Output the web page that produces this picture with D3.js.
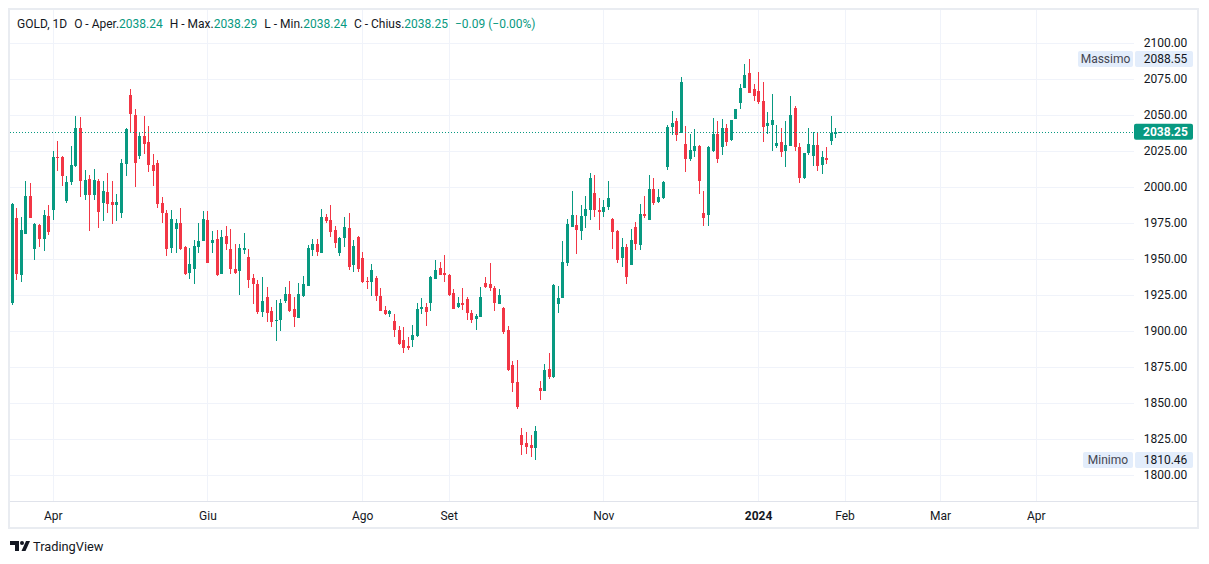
<!DOCTYPE html>
<html>
<head>
<meta charset="utf-8">
<script src="https://cdn.jsdelivr.net/npm/d3@7"></script>
<style>
body { margin: 0; background: #fff; }
svg { display: block; font-family: Roboto, "Trebuchet MS", sans-serif; }
</style>
</head>
<body>
<svg id="chart" width="1209" height="564"></svg>
<script>
// daily bars (index 0 = first visible bar)
const opens = [
1919.1,1978.5,1938.8,1967.5,1993.8,1957.1,1973.8,1963.9,1979.9,1984.1,
2020.8,2020.8,1990.3,2003.1,2014.2,2040.5,1994.0,2005.6,1994.0,2004.2,
1989.1,1996.6,1989.6,1987.1,1981.5,2015.6,2063.7,2049.5,2021.2,2035.1,
2030.9,2015.4,2016.8,1988.9,1982.0,1957.8,1970.8,1974.8,1958.3,1940.4,
1943.0,1958.5,1962.7,1977.1,1961.3,1963.9,1939.7,1965.9,1956.9,1943.0,
1941.8,1956.2,1951.5,1936.7,1932.5,1913.2,1923.3,1913.7,1907.2,1907.4,
1920.7,1925.6,1915.6,1909.3,1924.2,1931.3,1956.2,1960.4,1954.3,1979.0,
1977.1,1970.1,1954.3,1964.8,1971.5,1945.8,1965.5,1950.8,1934.6,1934.1,
1936.5,1924.4,1914.4,1911.6,1906.8,1900.5,1893.5,1889.6,1893.5,1896.3,
1915.1,1916.7,1919.5,1936.0,1943.7,1940.2,1938.8,1926.3,1916.5,1919.3,
1922.1,1912.8,1908.1,1909.8,1933.2,1932.5,1929.9,1918.8,1916.0,1900.5,
1876.1,1864.3,1828.1,1822.5,1821.1,1819.2,1860.6,1858.7,1873.8,1868.0,
1918.6,1923.0,1947.4,1972.4,1973.6,1969.6,1979.9,1983.6,1995.9,1984.1,
1982.2,1985.7,1977.8,1969.4,1950.8,1958.3,1945.8,1972.0,1959.7,1981.3,
1977.1,1998.7,1989.8,1992.2,2013.5,2041.4,2045.3,2037.5,2030.0,2019.1,
2025.1,2028.1,1982.0,1980.1,2024.7,2036.3,2027.7,2040.5,2032.3,2047.2,
2057.9,2068.5,2078.8,2067.8,2066.4,2059.5,2042.1,2042.8,2028.1,2030.9,
2024.7,2028.6,2054.9,2027.9,2006.1,2023.5,2021.2,2029.3,2015.4,2020.3,
2032.1,2036.3,2038.24
];
const highs = [
1988.5,1985.4,1979.4,2003.8,2002.6,1974.8,1974.5,1984.1,1987.5,2025.1,
2032.1,2021.7,2007.7,2028.6,2049.0,2048.1,2011.9,2008.4,2012.4,2005.6,
2004.2,2009.6,2003.8,1995.2,2019.6,2040.9,2067.6,2053.7,2037.9,2049.0,
2042.1,2023.0,2018.9,1993.1,1984.1,1984.1,1977.8,1985.4,1958.8,1957.4,
1963.2,1974.8,1983.4,1982.9,1969.6,1970.1,1970.1,1972.9,1970.6,1960.4,
1960.4,1968.2,1956.9,1939.5,1935.3,1937.2,1930.2,1916.7,1921.4,1922.3,
1930.2,1934.6,1923.7,1933.0,1938.1,1959.7,1963.9,1963.9,1984.7,1981.3,
1987.5,1972.9,1965.5,1979.0,1981.8,1963.2,1965.9,1955.0,1937.2,1946.5,
1938.1,1929.5,1917.2,1914.4,1911.6,1903.3,1902.8,1895.8,1904.0,1919.5,
1922.6,1919.1,1937.9,1949.2,1947.6,1952.7,1939.2,1929.0,1923.5,1929.7,
1923.7,1914.9,1912.1,1930.4,1937.4,1947.1,1931.1,1929.0,1916.7,1903.3,
1878.9,1879.6,1832.4,1830.1,1828.1,1834.3,1865.0,1876.8,1884.5,1932.3,
1931.1,1962.7,1977.8,1997.3,1980.6,1987.5,1993.8,2009.6,2008.4,1992.4,
1991.0,2004.2,1978.7,1970.1,1964.3,1960.4,1970.8,1975.9,1988.2,1993.8,
2007.9,2006.1,1998.5,2003.8,2043.2,2052.3,2047.4,2076.2,2042.1,2036.3,
2040.3,2029.3,1996.8,2028.2,2047.9,2045.5,2047.2,2043.7,2046.5,2054.0,
2071.1,2085.0,2088.55,2071.1,2079.7,2073.0,2051.8,2064.1,2042.8,2040.5,
2045.5,2062.7,2055.8,2030.5,2023.5,2040.5,2038.2,2038.2,2024.7,2027.9,
2048.8,2040.5,2038.29
];
const lows = [
1917.9,1935.3,1934.1,1967.3,1978.5,1949.2,1958.5,1955.5,1966.6,1977.1,
2010.7,2000.8,1989.1,2001.5,2013.8,1992.6,1991.0,1969.6,1990.5,1971.7,
1976.6,1981.8,1974.3,1976.6,1978.7,2007.2,2037.5,1999.6,2019.6,2022.4,
2010.5,2000.8,1985.4,1975.2,1952.2,1954.3,1954.1,1956.2,1938.8,1935.8,
1932.3,1953.9,1962.3,1947.0,1954.3,1938.4,1939.3,1956.2,1939.5,1939.5,
1924.9,1953.4,1929.9,1918.6,1912.1,1909.8,1906.3,1902.8,1893.0,1900.0,
1919.5,1913.2,1902.8,1909.0,1923.9,1931.0,1952.2,1952.2,1954.0,1974.8,
1965.5,1957.4,1952.0,1958.1,1942.3,1941.1,1941.1,1933.0,1928.8,1924.2,
1920.9,1913.6,1911.3,1909.8,1895.8,1890.4,1884.7,1886.6,1888.9,1896.0,
1912.1,1903.3,1913.9,1935.8,1938.8,1934.1,1924.6,1915.0,1916.0,1914.4,
1907.4,1905.6,1900.5,1909.5,1929.5,1927.9,1913.9,1918.5,1898.2,1872.4,
1857.5,1845.7,1814.1,1815.0,1812.3,1810.46,1852.4,1858.2,1866.9,1867.7,
1912.3,1922.7,1945.1,1972.1,1953.4,1963.2,1971.7,1977.1,1979.0,1970.1,
1979.4,1983.6,1956.9,1947.4,1944.6,1932.5,1945.5,1956.0,1956.2,1978.3,
1976.8,1987.1,1989.1,1991.7,2011.9,2035.8,2031.6,2037.2,2010.0,2017.7,
2020.8,1995.0,1973.1,1973.1,2024.4,2016.6,2021.9,2028.1,2032.0,2046.9,
2054.2,2068.2,2065.0,2059.5,2057.2,2031.2,2036.3,2024.7,2027.0,2020.8,
2013.5,2028.3,2024.7,2002.6,2005.6,2021.9,2014.7,2011.2,2009.1,2015.9,
2029.3,2034.0,2038.24
];
const closes = [
1988.2,1939.7,1970.1,1993.8,1978.7,1974.3,1964.1,1980.6,1968.9,2021.0,
2020.5,2007.2,2003.6,2015.4,2040.5,2003.8,2004.9,1994.0,2004.9,1982.2,
1997.3,1988.4,1987.1,1989.6,2016.8,2039.8,2050.4,2016.3,2035.1,2029.8,
2014.9,2010.7,1988.4,1981.5,1957.1,1977.8,1974.8,1956.7,1939.5,1946.5,
1959.0,1962.5,1977.8,1947.4,1963.2,1938.8,1965.5,1960.2,1943.0,1940.4,
1957.8,1957.8,1935.3,1932.3,1913.2,1920.7,1912.5,1906.3,1907.9,1919.1,
1925.6,1913.7,1909.8,1925.6,1932.5,1957.8,1960.4,1955.0,1979.0,1976.6,
1968.7,1961.3,1964.8,1972.0,1944.6,1959.0,1943.0,1934.1,1933.7,1942.3,
1924.2,1913.9,1911.6,1913.7,1900.5,1890.7,1888.2,1888.2,1897.0,1915.1,
1916.7,1913.2,1937.6,1942.3,1939.0,1938.8,1924.9,1915.3,1919.3,1918.1,
1912.5,1907.9,1910.4,1923.5,1930.4,1929.5,1919.5,1924.7,1899.3,1873.1,
1863.8,1847.6,1821.1,1819.7,1818.8,1830.8,1858.7,1873.1,1867.8,1931.6,
1922.8,1947.8,1974.5,1980.6,1970.1,1979.9,1984.7,2006.3,1983.6,1982.2,
1986.1,1992.4,1968.9,1949.2,1958.3,1937.6,1963.2,1960.0,1981.3,1979.9,
1998.7,1989.1,1993.1,2003.1,2041.2,2044.4,2035.8,2072.5,2019.1,2025.6,
2028.6,2003.8,1978.7,2027.9,2036.3,2019.4,2040.5,2031.2,2046.2,2053.7,
2068.5,2077.6,2065.3,2063.0,2058.8,2041.4,2044.2,2046.2,2030.2,2024.0,
2029.3,2049.5,2027.7,2006.1,2023.3,2030.0,2029.3,2014.2,2020.8,2018.4,
2037.0,2038.34,2038.25
];

// time axis labels: bar index of the first bar of each month shown
const monthLabels = ["Apr", "Giu", "Ago", "Set", "Nov", "2024", "Feb", "Mar", "Apr"];
const monthIndex  = [9, 43, 77, 96, 130, 164, 183, 204, 225];
const priceTicks = [1800, 1825, 1850, 1875, 1900, 1925, 1950, 1975, 2000, 2025, 2050, 2075, 2100];

const maxPrice = 2088.55, minPrice = 1810.46;
const lastPrice = 2038.25;

const UP = "#089981", DOWN = "#f23645", TEXT = "#131722";

const svg = d3.select("#chart");
const paneL = 10, paneR = 1134, paneT = 10, paneB = 501;
const axisR = 1198, axisB = 528;

const x = d3.scaleLinear().domain([0, 183]).range([11.74, 844.57]);
const y = d3.scaleLinear().domain([1800, 2100]).range([475.2, 42.6]);

// frame
svg.append("rect").attr("x", 9).attr("y", 9).attr("width", axisR - 9).attr("height", axisB - 9)
    .attr("fill", "#fff").attr("stroke", "#e9ecf1").attr("stroke-width", 2);
svg.append("line").attr("x1", 10).attr("x2", axisR).attr("y1", paneB + 0.5).attr("y2", paneB + 0.5)
    .attr("stroke", "#e0e3eb");

svg.append("clipPath").attr("id", "pane").append("rect")
    .attr("x", paneL).attr("y", paneT).attr("width", paneR - paneL).attr("height", paneB - paneT);
const pane = svg.append("g").attr("clip-path", "url(#pane)");

// grid
pane.selectAll(".hg").data(priceTicks).enter().append("line")
    .attr("x1", paneL).attr("x2", paneR)
    .attr("y1", d => Math.round(y(d)) + 0.5).attr("y2", d => Math.round(y(d)) + 0.5)
    .attr("stroke", "#f0f3fa");
pane.selectAll(".vg").data(monthIndex).enter().append("line")
    .attr("y1", paneT).attr("y2", paneB)
    .attr("x1", d => Math.round(x(d)) + 0.5).attr("x2", d => Math.round(x(d)) + 0.5)
    .attr("stroke", "#f0f3fa");

// candles
const bars = d3.range(opens.length).map(i => ({i, o: opens[i], h: highs[i], l: lows[i], c: closes[i]}));
const col = d => d.c >= d.o ? UP : DOWN;
pane.selectAll(".wick").data(bars).enter().append("rect")
    .attr("x", d => Math.round(x(d.i)))
    .attr("y", d => Math.round(y(d.h)))
    .attr("width", 1)
    .attr("height", d => Math.max(1, Math.round(y(d.l)) - Math.round(y(d.h))))
    .attr("fill", col);
pane.selectAll(".body").data(bars).enter().append("rect")
    .attr("x", d => Math.round(x(d.i)) - 1)
    .attr("y", d => Math.round(y(Math.max(d.o, d.c))))
    .attr("width", 3)
    .attr("height", d => Math.max(1, Math.round(y(Math.min(d.o, d.c))) - Math.round(y(Math.max(d.o, d.c)))))
    .attr("fill", col);

// last price line
pane.append("line").attr("x1", paneL).attr("x2", paneR)
    .attr("y1", Math.round(y(lastPrice)) + 0.5).attr("y2", Math.round(y(lastPrice)) + 0.5)
    .attr("stroke", UP).attr("stroke-dasharray", "1,2");

// header legend
const legend = svg.append("text").attr("x", 17).attr("y", 27.5)
    .attr("font-size", 12).attr("fill", TEXT);
const parts = [
    ["GOLD, 1D", TEXT, 0], ["O - Aper.", TEXT, 7], ["2038.24", UP, 0],
    ["H - Max.", TEXT, 7], ["2038.29", UP, 0], ["L - Min.", TEXT, 7], ["2038.24", UP, 0],
    ["C - Chius.", TEXT, 7], ["2038.25", UP, 0], ["\u22120.09 (\u22120.00%)", UP, 7]
];
parts.forEach(p => legend.append("tspan").attr("dx", p[2]).attr("fill", p[1]).text(p[0]));

// price axis
svg.selectAll(".pl").data(priceTicks).enter().append("text")
    .attr("x", 1165.5).attr("y", d => y(d)).attr("dy", "0.35em")
    .attr("text-anchor", "middle").attr("font-size", 12).attr("fill", TEXT)
    .text(d => d.toFixed(2));

// high / low labels
function hiLo(name, value, nameLeft) {
    const cy = y(value);
    svg.append("rect").attr("x", nameLeft).attr("y", cy - 8).attr("width", 1133 - nameLeft).attr("height", 16)
        .attr("rx", 2).attr("fill", "#e3edfb");
    svg.append("rect").attr("x", 1135).attr("y", cy - 8).attr("width", 58).attr("height", 16)
        .attr("rx", 2).attr("fill", "#e3edfb");
    svg.append("text").attr("x", (nameLeft + 1133) / 2).attr("y", cy).attr("dy", "0.35em")
        .attr("text-anchor", "middle").attr("font-size", 12).attr("fill", "#434651").text(name);
    svg.append("text").attr("x", 1165.5).attr("y", cy).attr("dy", "0.35em")
        .attr("text-anchor", "middle").attr("font-size", 12).attr("fill", TEXT).text(value.toFixed(2));
}
hiLo("Massimo", maxPrice, 1078);
hiLo("Minimo", minPrice, 1083);

// last price label
svg.append("rect").attr("x", 1134).attr("y", y(lastPrice) - 8).attr("width", 59).attr("height", 16)
    .attr("rx", 2).attr("fill", UP);
svg.append("text").attr("x", 1165.5).attr("y", y(lastPrice)).attr("dy", "0.35em")
    .attr("text-anchor", "middle").attr("font-size", 12).attr("font-weight", 700).attr("fill", "#fff")
    .text(lastPrice.toFixed(2));

// time axis
svg.selectAll(".tl").data(monthLabels).enter().append("text")
    .attr("x", (d, k) => x(monthIndex[k]) + 0.5).attr("y", 519.5)
    .attr("text-anchor", "middle").attr("font-size", 12).attr("fill", TEXT)
    .attr("font-weight", d => d === "2024" ? 700 : 400)
    .text(d => d);

// TradingView logo
const logo = svg.append("g").attr("fill", TEXT);
logo.append("path").attr("d", "M10,541 H19 V551 H15 V545 H10 Z");
logo.append("circle").attr("cx", 22).attr("cy", 543).attr("r", 2);
logo.append("path").attr("d", "M26,541 H30 L25.5,551 H21.5 Z");
svg.append("text").attr("x", 33).attr("y", 551).attr("font-size", 12.8).attr("fill", TEXT).text("TradingView");
</script>
</body>
</html>
